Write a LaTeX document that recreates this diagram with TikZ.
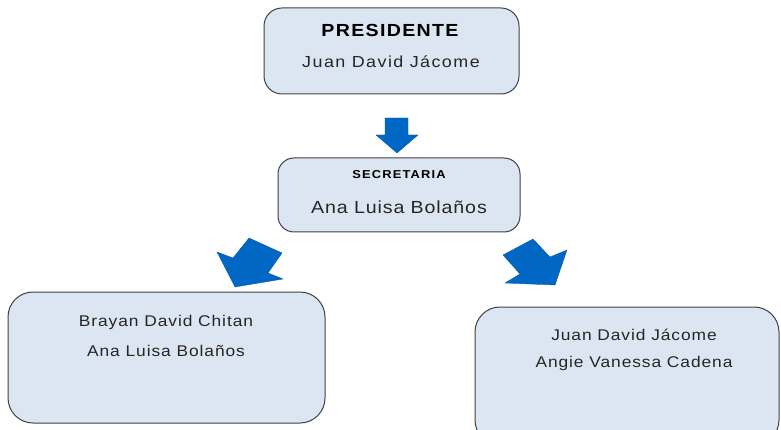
\documentclass[tikz,border=0pt]{standalone}
\usepackage{fontspec}
\setmainfont{Liberation Sans}
\definecolor{boxfill}{RGB}{220,230,242}
\definecolor{boxline}{RGB}{64,64,64}
\definecolor{arrblue}{RGB}{0,103,197}
\begin{document}
\begin{tikzpicture}[x=1pt,y=-1pt,
  box/.style={draw=boxline,fill=boxfill,line width=1pt},
  blockarrow/.style={fill=arrblue,draw=arrblue!80!black,line width=0.3pt,line join=miter},
  nametext/.style={font=\fontsize{16}{19}\selectfont\addfontfeature{FakeStretch=1.12,LetterSpace=9},text=black!85},
  secnametext/.style={font=\fontsize{17.5}{20}\selectfont\addfontfeature{FakeStretch=1.12,LetterSpace=5},text=black!85},
  smalltext/.style={font=\fontsize{15.5}{18}\selectfont\addfontfeature{FakeStretch=1.12,LetterSpace=6},text=black!85},
  titletext/.style={font=\bfseries\fontsize{17.5}{20}\selectfont\addfontfeature{FakeStretch=1.12,LetterSpace=7.5}},
  subtitletext/.style={font=\bfseries\fontsize{11.5}{13}\selectfont\addfontfeature{FakeStretch=1.12,LetterSpace=10}}]
\useasboundingbox (0,0) rectangle (781,430);
% boxes
\draw[box,rounded corners=18pt] (264,8) rectangle (519,94);
\draw[box,rounded corners=16pt] (278,158) rectangle (520,232);
\draw[box,rounded corners=25pt] (8,292) rectangle (325,423);
\draw[box,rounded corners=25pt] (475,307) rectangle (779,445);
% texts
\node[titletext] (pt) at (390,30) {PRESIDENTE};
\node[nametext] (pn) at (391,62) {Juan David Jácome};
\node[subtitletext] (st) at (399,175) {SECRETARIA};
\node[secnametext] (sn) at (399,207) {Ana Luisa Bolaños};
\node[smalltext] (l1) at (166,322) {Brayan David Chitan};
\node[smalltext] (l2) at (166,351) {Ana Luisa Bolaños};
\node[smalltext] (r1) at (634,335) {Juan David Jácome};
\node[smalltext] (r2) at (634,363) {Angie Vanessa Cadena};
% block arrows
\fill[blockarrow] (385,118) -- (408,118) -- (408,135) -- (418,135) -- (397,153) -- (376,135) -- (385,135) -- cycle;
\fill[blockarrow] (249,238) -- (282,253) -- (268,273) -- (283,279) -- (235,287) -- (217,252) -- (233,258) -- cycle;
\fill[blockarrow] (503,255) -- (533,239) -- (550,257) -- (567,250) -- (555,285) -- (505,283) -- (520,274) -- cycle;
\end{tikzpicture}
\end{document}
